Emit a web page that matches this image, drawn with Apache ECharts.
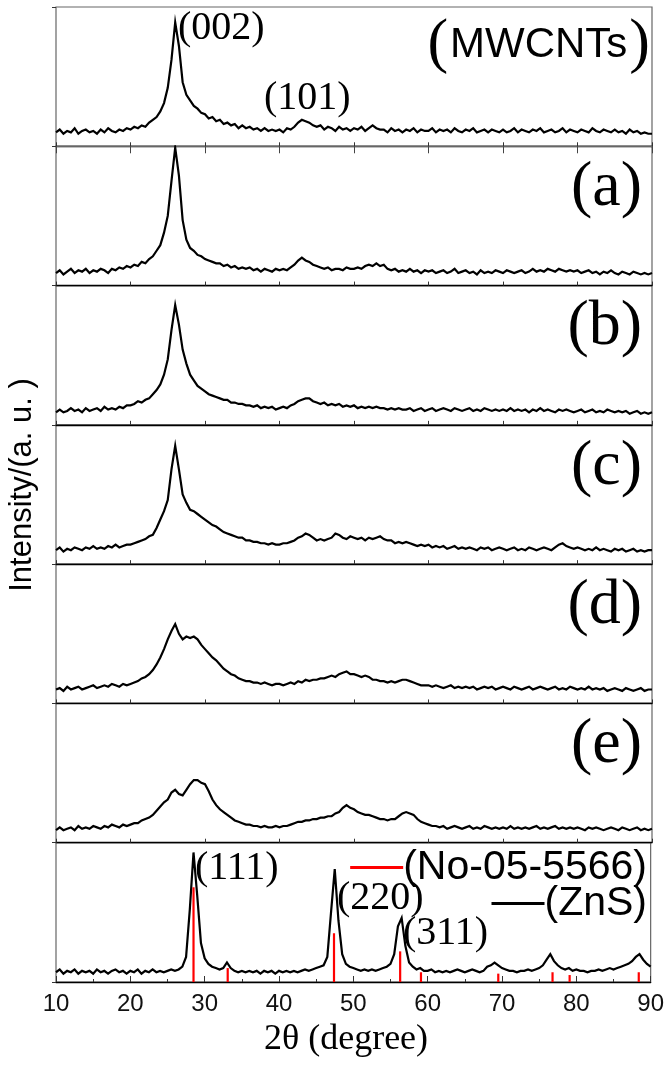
<!DOCTYPE html>
<html>
<head>
<meta charset="utf-8">
<script src="https://cdn.jsdelivr.net/npm/echarts@6/dist/echarts.min.js"></script>
<style>html,body{margin:0;padding:0;background:#fff;}#chart{width:667px;height:1065px;}</style>
</head>
<body>
<div id="chart"></div>
<script>
// 2θ sampling grid (degrees)
const twoTheta = [10,10.5,11,11.5,12,12.5,13,13.5,14,14.5,15,15.5,16,16.5,17,17.5,18,18.5,19,19.5,
20,20.5,21,21.5,22,22.5,23,23.5,24,24.5,25,25.5,26,26.5,27,27.5,28,28.5,29,29.5,
30,30.5,31,31.5,32,32.5,33,33.5,34,34.5,35,35.5,36,36.5,37,37.5,38,38.5,39,39.5,
40,40.5,41,41.5,42,42.5,43,43.5,44,44.5,45,45.5,46,46.5,47,47.5,48,48.5,49,49.5,
50,50.5,51,51.5,52,52.5,53,53.5,54,54.5,55,55.5,56,56.5,57,57.5,58,58.5,59,59.5,
60,60.5,61,61.5,62,62.5,63,63.5,64,64.5,65,65.5,66,66.5,67,67.5,68,68.5,69,69.5,
70,70.5,71,71.5,72,72.5,73,73.5,74,74.5,75,75.5,76,76.5,77,77.5,78,78.5,79,79.5,
80,80.5,81,81.5,82,82.5,83,83.5,84,84.5,85,85.5,86,86.5,87,87.5,88,88.5,89,89.5,90];

const mwcnts = [10,12,9,11,10,13,9,11,12,10,11,9,12,10,13,11,10,12,11,13,
12,14,13,15,14,17,19,21,25,31,42,62,89,72,46,37,33,29,27,24,
23,20,21,18,19,16,17,15,16,13,15,13,14,12,13,11,13,11,12,11,
12,10,13,12,14,17,19,18,17,15,14,15,12,14,13,11,14,12,13,11,
13,12,14,11,13,15,13,12,12,10,13,11,12,10,12,11,13,10,12,11,
11,13,10,12,11,12,10,13,11,10,12,11,13,10,11,12,10,12,11,10,
12,10,11,13,10,12,11,10,12,11,13,10,11,12,10,11,13,10,12,11,
10,12,11,10,13,11,10,12,11,10,12,10,11,9,12,10,11,9,10,9,9];

const sampleA = [9,11,8,10,12,9,11,10,12,9,11,10,12,11,9,12,11,13,12,14,
13,15,14,17,16,19,21,25,29,38,50,75,99,79,47,33,27,25,22,21,
19,18,17,16,16,14,15,13,14,12,13,12,13,11,12,10,12,11,10,12,
11,12,11,13,15,18,20,18,17,15,14,13,12,13,11,12,12,11,13,12,
12,13,12,14,15,14,16,14,15,12,11,12,10,11,10,12,10,11,9,11,
10,11,9,10,11,9,10,12,9,10,11,9,10,8,11,9,10,9,11,10,
9,11,10,9,10,11,9,10,12,10,11,10,12,11,10,12,11,10,11,10,
11,9,10,11,9,10,8,10,9,11,9,8,10,9,8,10,9,8,9,8,9];

const sampleB = [9,11,9,10,12,10,11,9,12,10,11,12,10,13,11,12,11,13,12,14,
14,15,17,16,18,19,22,25,29,36,47,68,86,72,54,44,36,32,28,26,
24,22,21,20,19,18,18,16,16,15,15,14,14,13,14,12,13,12,13,11,
12,13,12,14,15,17,18,19,19,17,16,15,16,14,15,14,15,13,14,13,
14,12,13,12,13,12,13,12,12,11,12,11,12,11,11,12,10,11,12,10,
11,12,10,11,12,11,10,12,11,10,11,12,10,11,10,12,11,10,11,10,
11,10,12,10,11,10,11,9,11,10,12,10,11,10,9,11,10,11,10,9,
10,11,9,10,11,9,10,9,11,10,9,10,9,10,8,9,10,8,9,8,9];

const sampleC = [10,12,9,11,10,12,11,10,12,11,13,11,12,11,13,12,14,12,13,14,
14,15,16,17,18,20,21,26,32,38,46,68,85,68,50,44,39,38,36,34,
32,30,28,27,25,23,22,21,20,19,19,17,17,16,16,15,15,14,15,14,
14,15,15,16,17,19,20,22,21,19,17,18,17,18,19,22,21,19,18,20,
19,18,19,17,19,18,19,20,18,17,17,15,16,15,16,15,14,13,14,13,
14,12,13,12,13,11,12,13,11,12,11,12,11,10,12,11,12,10,11,12,
11,10,11,12,10,11,10,12,11,10,11,12,11,10,12,14,15,13,12,11,
12,11,10,11,10,12,10,11,10,9,11,10,11,9,10,11,9,10,9,10,10];

const sampleD = [10,11,9,12,10,11,12,10,11,12,13,11,12,13,12,14,13,12,14,13,
14,15,16,18,19,21,24,28,33,39,46,52,57,50,46,48,47,48,46,42,
39,36,33,31,28,25,23,21,20,18,17,16,16,15,15,14,15,14,13,14,
14,13,14,15,14,16,15,17,16,17,17,18,18,19,20,19,21,22,23,21,
21,20,19,20,19,17,17,16,16,15,16,15,16,17,17,16,15,14,13,13,
13,12,13,12,11,12,13,11,12,11,12,11,12,10,11,12,11,12,10,11,
12,11,10,12,11,10,11,12,10,11,12,11,10,11,12,10,11,10,12,11,
10,11,10,12,10,11,10,11,9,10,11,10,9,11,10,9,10,11,9,10,10];

const sampleE = [9,11,9,10,11,9,12,10,11,10,12,11,10,12,11,13,12,11,13,12,
13,14,14,16,17,18,20,23,26,29,31,36,38,35,34,38,42,45,45,43,
42,37,31,27,24,22,20,18,16,15,14,13,13,12,12,11,12,11,11,12,
11,12,12,13,14,15,15,16,16,17,17,18,18,19,19,21,22,25,27,25,
24,22,21,20,20,19,18,17,17,16,17,17,19,21,22,21,20,17,15,14,
13,12,12,11,12,10,11,12,11,10,11,12,10,11,10,12,11,10,11,10,
11,10,12,10,11,10,11,10,11,12,10,11,10,11,12,10,11,10,11,10,
11,10,9,11,10,11,10,9,10,11,10,9,11,10,9,10,11,9,10,9,10];

const zns = [7,9,6,8,7,9,6,8,7,8,6,9,7,8,6,8,9,7,8,6,
8,7,9,6,8,7,9,7,8,7,8,9,8,9,11,18,52,93,62,28,
17,13,11,10,9,10,14,10,8,7,8,7,8,7,8,6,8,7,8,6,
8,7,8,7,8,7,8,9,8,9,10,11,12,18,50,81,44,20,13,11,
10,9,8,9,8,9,8,9,10,11,13,20,40,46,26,14,11,9,10,8,
8,9,7,8,7,8,7,8,9,8,7,8,9,8,7,8,11,12,14,12,
10,9,8,8,7,8,8,9,8,9,10,12,16,20,15,12,10,9,10,8,
9,8,8,7,8,8,9,8,9,10,9,10,11,12,13,15,18,20,16,13,11];

// Reference pattern No-05-5566 (stick positions and relative heights)
const refPos = [28.5,33.1,47.4,56.3,59.1,69.5,76.8,79.1,88.4];
const refInt = [68,10,35,22,7,6,7,5,7];

const panelNames = ['(MWCNTs)','(a)','(b)','(c)','(d)','(e)','(ZnS)'];
const panelData = [mwcnts, sampleA, sampleB, sampleC, sampleD, sampleE, zns];
const xTicks = [10,20,30,40,50,60,70,80,90];

const chart = echarts.init(document.getElementById('chart'), null, {renderer:'canvas'});
const TOP = 7, BOTTOM = 982, LEFT = 56, RIGHT_EDGE = 652;
const PH = (BOTTOM - TOP) / 7;

const grids = [], xAxes = [], yAxes = [], series = [];
for (let i = 0; i < 7; i++) {
  grids.push({left: LEFT, width: RIGHT_EDGE - LEFT, top: TOP + i * PH, height: PH,
    show: true, borderColor: '#666', borderWidth: 1.2, backgroundColor: 'transparent'});
  const last = i === 6;
  xAxes.push({type: 'value', gridIndex: i, min: 10, max: 90, interval: 10,
    axisLine: {show: true, onZero: false, lineStyle: {color: '#000', width: 1.3}},
    axisTick: {show: true, inside: true, length: last ? 6 : 4, lineStyle: {color: '#333'}},
    minorTick: {show: last, splitNumber: 2, length: 3, lineStyle: {color: '#333'}},
    axisLabel: {show: last, fontFamily: 'Liberation Sans, Arial', fontSize: 24, color: '#111', margin: 10,
      formatter: v => xTicks.indexOf(v) >= 0 ? String(v) : ''},
    splitLine: {show: false}});
  yAxes.push({type: 'value', gridIndex: i, min: 0, max: 100, interval: 100,
    axisLine: {show: false}, axisLabel: {show: false}, splitLine: {show: false},
    axisTick: {show: true, inside: false, length: 4, lineStyle: {color: '#333'}}});
  series.push({type: 'line', name: panelNames[i], xAxisIndex: i, yAxisIndex: i,
    data: twoTheta.map((x, k) => [x, panelData[i][k]]),
    showSymbol: false, symbol: 'none', smooth: false,
    lineStyle: {color: '#000', width: 2.2, join: 'miter'}, itemStyle: {color: '#000'}, z: 3});
}
// top axis ticks of first panel
xAxes.push({type: 'value', gridIndex: 0, position: 'top', min: 10, max: 90, interval: 10,
  axisLine: {show: true, lineStyle: {color: '#666', width: 1.2}},
  axisTick: {show: true, inside: true, length: 7, lineStyle: {color: '#444'}},
  axisLabel: {show: false}, splitLine: {show: false}});

series.push({type: 'bar', name: '(No-05-5566)', xAxisIndex: 6, yAxisIndex: 6,
  data: refPos.map((x, k) => [x, refInt[k]]), barWidth: 2.2,
  itemStyle: {color: '#ff0000'}, z: 4});

const serif = 'Liberation Serif, Times New Roman, serif';
const sans = 'Liberation Sans, Arial, sans-serif';
function txt(x, y, text, size, font, align) {
  return {type: 'text', x: x, y: y, z: 10,
    style: {text: text, fontSize: size, fontFamily: font, fill: '#000',
      textAlign: align || 'left', textVerticalAlign: 'middle'}};
}
const graphics = [
  txt(178, 28, '(002)', 40, serif),
  txt(264, 98, '(101)', 40, serif),
  {type: 'text', x: 650, y: 45, z: 10, style: {
    text: '{p|(}{t|MWCNTs}{p|)}', textAlign: 'right', textVerticalAlign: 'middle',
    rich: {p: {fontFamily: serif, fontSize: 62, fill: '#000', verticalAlign: 'middle', lineHeight: 62},
           t: {fontFamily: sans, fontSize: 42, fill: '#000', verticalAlign: 'middle', lineHeight: 62, padding: [0, 2, 0, 2]}}}},
  txt(642, 188, '(a)', 64, serif, 'right'),
  txt(642, 327, '(b)', 64, serif, 'right'),
  txt(642, 467, '(c)', 64, serif, 'right'),
  txt(642, 606, '(d)', 64, serif, 'right'),
  txt(642, 745, '(e)', 64, serif, 'right'),
  txt(195, 868, '(111)', 40, serif),
  txt(337, 898, '(220)', 40, serif),
  txt(403, 933, '(311)', 40, serif),
  txt(346, 1040, '2θ (degree)', 36, serif, 'center'),
  {type: 'text', x: 22, y: 485, rotation: Math.PI / 2, z: 10,
    style: {text: 'Intensity/(a. u. )', fontSize: 31, fontFamily: sans, fill: '#000',
      textAlign: 'center', textVerticalAlign: 'middle'}}
];

const option = {
  animation: false,
  backgroundColor: '#fff',
  grid: grids, xAxis: xAxes, yAxis: yAxes, series: series,
  legend: [
    {data: [{name: '(No-05-5566)', icon: 'rect'}], right: 15, top: 842, selectedMode: false,
      itemWidth: 53, itemHeight: 3, itemGap: 0,
      textStyle: {fontFamily: sans, fontSize: 41, color: '#000', padding: [0, 0, 0, -5]}},
    {data: [{name: '(ZnS)', icon: 'rect'}], right: 15, top: 878, selectedMode: false,
      itemWidth: 53, itemHeight: 3, itemGap: 0,
      textStyle: {fontFamily: sans, fontSize: 41, color: '#000', padding: [0, 0, 0, -5]}}
  ],
  graphic: graphics
};
chart.setOption(option);
</script>
</body>
</html>
